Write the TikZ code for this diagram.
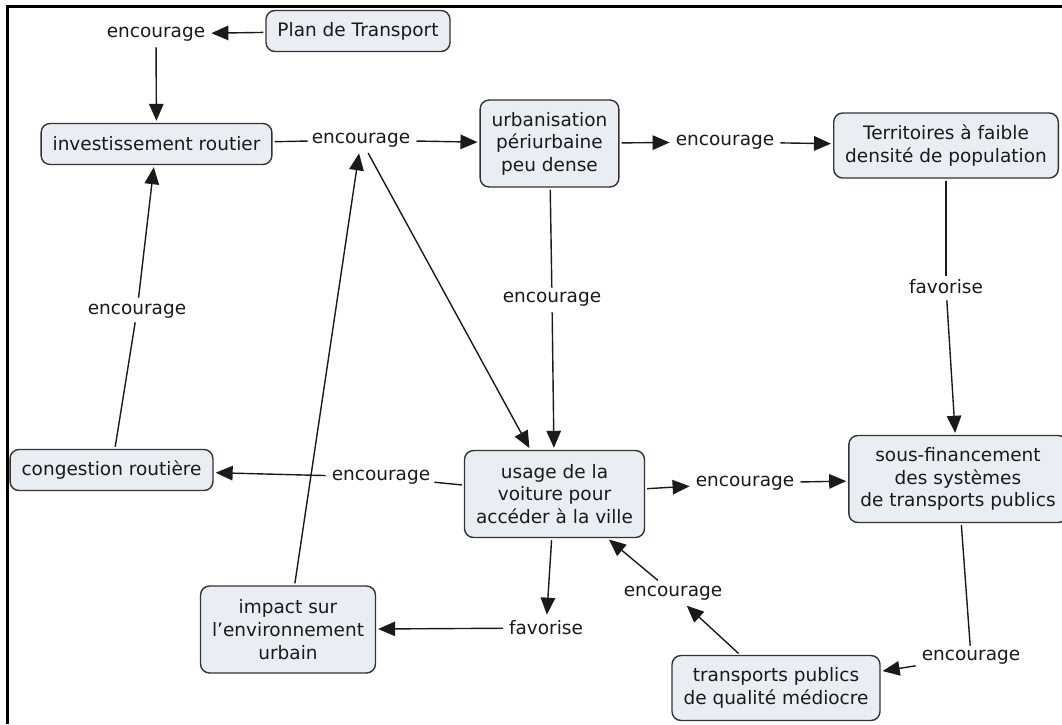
\documentclass[tikz,border=0pt]{standalone}
\usepackage{fontspec}
\setmainfont{DejaVu Sans}
\usetikzlibrary{arrows.meta}
\definecolor{boxfill}{HTML}{E8EEF3}
\definecolor{ink}{HTML}{1A1A1A}
\definecolor{boxline}{HTML}{333333}
\begin{document}
\begin{tikzpicture}[x=1pt,y=-1pt,
  concept/.style={draw=boxline, line width=1.4pt, rounded corners=9pt, fill=boxfill,
    inner xsep=11.5pt, inner ysep=4pt, align=center, text=ink,
    font=\fontsize{18.5}{22.6}\selectfont},
  oneline/.style={minimum height=41pt},
  twoline/.style={minimum height=65pt},
  threeline/.style={minimum height=87pt},
  phrase/.style={inner sep=4pt, text=ink, font=\fontsize{18.5}{22.6}\selectfont},
  link/.style={draw=ink, line width=1.4pt, shorten <=2pt},
  arr/.style={link, -{Triangle[length=17pt,width=14.5pt]}, shorten >=2pt}
]
\useasboundingbox (0,0) rectangle (1062,724);
\fill[white] (0,0) rectangle (1062,724);

% frame (top and left edges)
\draw[line width=3pt, black] (7.5,724) -- (7.5,6.5) -- (1062,6.5);

% concepts
\node[concept,oneline]   (plan)    at (358,31)     {Plan de Transport};
\node[concept,oneline]   (invest)  at (156.5,144)  {investissement routier};
\node[concept,threeline] (urban)   at (549.5,143.5){urbanisation\\périurbaine\\peu dense};
\node[concept,twoline]   (territ)  at (946,145.5)  {Territoires à faible\\densité de population};
\node[concept,oneline]   (cong)    at (111.5,470)  {congestion routière};
\node[concept,threeline] (usage)   at (554.5,494)  {usage de la\\voiture pour\\accéder à la ville};
\node[concept,threeline] (sousfin) at (958,479)    {sous-financement\\des systèmes\\de transports publics};
\node[concept,threeline] (impact)  at (288,629.5)  {impact sur\\l’environnement\\urbain};
\node[concept,twoline]   (transp)  at (776,688)    {transports publics\\de qualité médiocre};

% linking phrases
\node[phrase] (e1) at (156,34)  {encourage};
\node[phrase] (e2) at (361,140) {encourage};
\node[phrase] (e3) at (725,142) {encourage};
\node[phrase] (e4) at (552,299) {encourage};
\node[phrase] (f1) at (946,287) {favorise};
\node[phrase] (e5) at (137,311) {encourage};
\node[phrase] (e6) at (381,477) {encourage};
\node[phrase] (e7) at (745,483) {encourage};
\node[phrase] (f2) at (546,628) {favorise};
\node[phrase] (e9) at (673,593) {encourage};
\node[phrase] (e8) at (971,657) {encourage};

% connectors
\draw[arr]  (plan) -- (e1);
\draw[arr]  (e1) -- (invest);
\draw[link] (invest) -- (e2);
\draw[arr]  (e2) -- (urban);
\draw[arr]  (e2) -- (usage);
\draw[arr]  (urban) -- (e3);
\draw[arr]  (e3) -- (territ);
\draw[link] (urban) -- (e4);
\draw[arr]  (e4) -- (usage);
\draw[link] (territ) -- (f1);
\draw[arr]  (f1) -- (sousfin);
\draw[link] (cong) -- (e5);
\draw[arr]  (e5) -- (invest);
\draw[link] (usage) -- (e6);
\draw[arr]  (e6) -- (cong);
\draw[arr]  (usage) -- (e7);
\draw[arr]  (e7) -- (sousfin);
\draw[link] (sousfin) -- (e8);
\draw[arr]  (e8) -- (transp);
\draw[arr]  (transp) -- (e9);
\draw[arr]  (e9) -- (usage);
\draw[arr]  (usage) -- (f2);
\draw[arr]  (f2) -- (impact);
\draw[arr]  (impact) -- (e2);
\end{tikzpicture}
\end{document}
